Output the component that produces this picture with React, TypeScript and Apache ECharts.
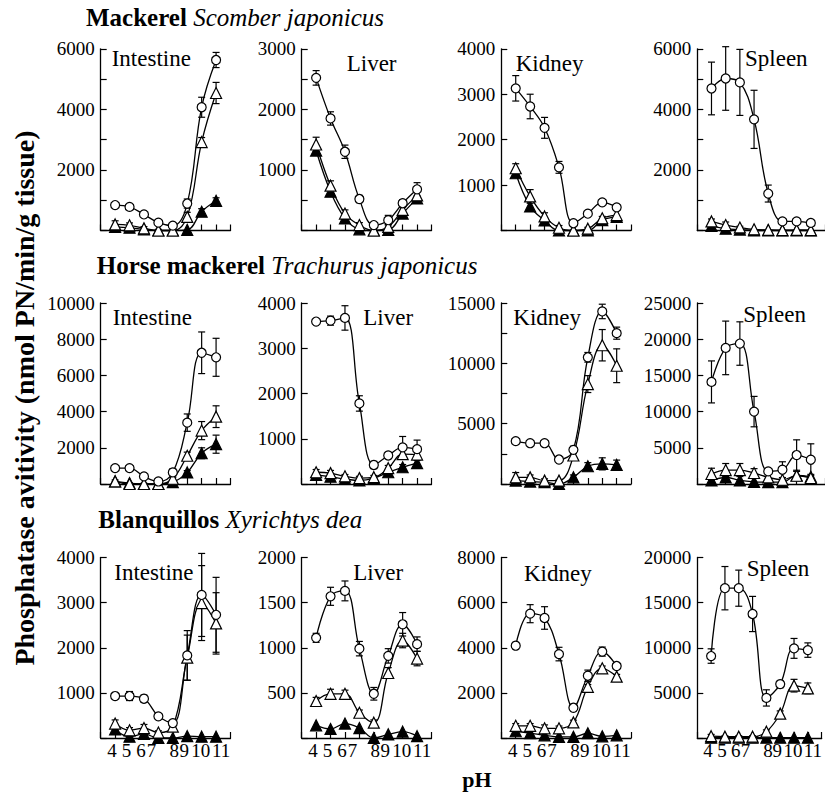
import React, { useEffect, useRef } from 'react';
import * as echarts from 'echarts';

// ---------------- DATA ----------------
const phValues = [4, 5, 6, 7, 8, 9, 10, 11];
const xTickLabels = ['4', '5', '6', '7', '8', '9', '10', '11'];

const fishBold = ['Mackerel', 'Horse mackerel', 'Blanquillos'];
const fishItalic = ['Scomber japonicus', 'Trachurus japonicus', 'Xyrichtys dea'];
const organNames = ['Intestine', 'Liver', 'Kidney', 'Spleen'];
const yAxisTitle = 'Phosphatase avitivity (nmol PN/min/g tissue)';
const xAxisTitle = 'pH';

// y-axis max, tick step, label step per row
const yMaxRow1 = [6000, 3000, 4000, 6000];
const yTickRow1 = [1000, 500, 1000, 1000];
const yLabelRow1 = [2000, 1000, 1000, 2000];
const yMaxRow2 = [10000, 4000, 15000, 25000];
const yTickRow2 = [2000, 1000, 2500, 5000];
const yLabelRow2 = [2000, 1000, 5000, 5000];
const yMaxRow3 = [4000, 2000, 8000, 20000];
const yTickRow3 = [1000, 500, 2000, 5000];
const yLabelRow3 = [1000, 500, 2000, 5000];

// Mackerel
const mackIntO = [840, 780, 530, 260, 160, 890, 4070, 5630];
const mackIntOErr = [70, 60, 60, 50, 60, 150, 330, 250];
const mackIntT = [200, 170, 70, 0, 0, 450, 2920, 4540];
const mackIntTErr = [120, 80, 60, 40, 40, 150, 150, 350];
const mackIntF = [120, 90, 40, 0, 0, 20, 620, 980];
const mackIntFErr = [0, 0, 0, 0, 0, 0, 100, 100];

const mackLivO = [2520, 1850, 1300, 520, 90, 170, 450, 680];
const mackLivOErr = [120, 110, 110, 60, 40, 80, 60, 110];
const mackLivT = [1420, 740, 280, 90, 0, 60, 340, 580];
const mackLivTErr = [120, 80, 60, 40, 0, 40, 50, 80];
const mackLivF = [1320, 640, 200, 20, 0, 10, 280, 530];
const mackLivFErr = [0, 0, 0, 0, 0, 0, 0, 0];

const mackKidO = [3130, 2730, 2260, 1390, 160, 370, 620, 510];
const mackKidOErr = [280, 270, 230, 130, 40, 30, 30, 60];
const mackKidT = [1370, 750, 310, 60, 0, 40, 270, 340];
const mackKidTErr = [100, 150, 80, 50, 0, 30, 40, 100];
const mackKidF = [1260, 530, 220, 0, 0, 0, 230, 300];
const mackKidFErr = [0, 0, 0, 0, 0, 0, 0, 0];

const mackSplO = [4690, 5020, 4890, 3670, 1220, 300, 300, 250];
const mackSplOErr = [870, 1050, 1090, 960, 280, 60, 60, 100];
const mackSplT = [300, 180, 100, 40, 20, 10, 20, 10];
const mackSplTErr = [80, 100, 40, 0, 0, 0, 0, 0];
const mackSplF = [150, 60, 30, 0, 0, 0, 0, 0];
const mackSplFErr = [0, 0, 0, 0, 0, 0, 0, 0];

// Horse mackerel
const horseIntO = [880, 880, 420, 140, 640, 3390, 7250, 7000];
const horseIntOErr = [100, 100, 60, 60, 200, 480, 1150, 1050];
const horseIntT = [140, 0, 0, 0, 290, 1560, 2950, 3720];
const horseIntTErr = [80, 60, 40, 40, 80, 200, 500, 600];
const horseIntF = [150, 50, 0, 0, 100, 640, 1700, 2200];
const horseIntFErr = [0, 0, 0, 0, 0, 100, 300, 500];

const horseLivO = [3590, 3610, 3670, 1780, 420, 630, 810, 770];
const horseLivOErr = [50, 100, 270, 170, 80, 70, 240, 200];
const horseLivT = [260, 240, 170, 130, 150, 350, 660, 650];
const horseLivTErr = [60, 60, 40, 40, 40, 60, 100, 100];
const horseLivF = [200, 160, 110, 80, 130, 260, 370, 460];
const horseLivFErr = [0, 0, 0, 0, 0, 0, 60, 60];

const horseKidO = [3550, 3380, 3380, 2030, 2830, 10500, 14300, 12500];
const horseKidOErr = [200, 200, 200, 100, 300, 400, 600, 500];
const horseKidT = [550, 550, 280, 280, 2360, 8280, 11500, 9800];
const horseKidTErr = [400, 200, 150, 100, 300, 700, 1300, 1400];
const horseKidF = [280, 200, 150, 0, 550, 1470, 1670, 1580];
const horseKidFErr = [0, 0, 0, 0, 200, 300, 500, 400];

const horseSplO = [14100, 18800, 19400, 10000, 1740, 1970, 4000, 3350];
const horseSplOErr = [2900, 3700, 3000, 2100, 300, 1100, 2100, 2200];
const horseSplT = [1380, 1930, 1930, 1520, 910, 590, 1140, 830];
const horseSplTErr = [800, 900, 900, 600, 500, 300, 600, 500];
const horseSplF = [500, 900, 500, 300, 250, 250, 1200, 1000];
const horseSplFErr = [0, 0, 0, 0, 0, 0, 0, 0];

// Blanquillos
const blanIntO = [930, 930, 870, 480, 330, 1830, 3170, 2730];
const blanIntOErr = [60, 100, 80, 40, 60, 550, 920, 830];
const blanIntT = [320, 170, 220, 120, 250, 1780, 2990, 2540];
const blanIntTErr = [80, 60, 80, 40, 60, 500, 830, 680];
const blanIntF = [190, 30, 90, 0, 0, 40, 30, 30];
const blanIntFErr = [0, 0, 0, 0, 0, 0, 0, 0];

const blanLivO = [1110, 1570, 1630, 990, 490, 910, 1260, 1040];
const blanLivOErr = [50, 100, 110, 80, 70, 80, 130, 80];
const blanLivT = [410, 490, 490, 280, 170, 720, 1080, 880];
const blanLivTErr = [40, 50, 40, 30, 30, 60, 80, 80];
const blanLivF = [140, 100, 160, 110, 0, 40, 70, 20];
const blanLivFErr = [0, 0, 0, 0, 0, 0, 0, 0];

const blanKidO = [4090, 5510, 5320, 3720, 1340, 2760, 3830, 3190];
const blanKidOErr = [150, 400, 500, 300, 150, 250, 200, 100];
const blanKidT = [540, 540, 430, 430, 690, 2270, 3090, 2720];
const blanKidTErr = [100, 100, 150, 100, 100, 100, 100, 100];
const blanKidF = [300, 220, 120, 50, 50, 210, 75, 120];
const blanKidFErr = [0, 0, 0, 0, 0, 0, 0, 0];

const blanSplO = [9080, 16600, 16600, 13740, 4440, 5970, 9930, 9740];
const blanSplOErr = [800, 2400, 2000, 1950, 900, 400, 1100, 800];
const blanSplT = [200, 150, 150, 150, 700, 2700, 5800, 5500];
const blanSplTErr = [200, 100, 100, 100, 200, 300, 700, 600];
const blanSplF = [30, 30, 30, 30, 30, 30, 30, 30];
const blanSplFErr = [0, 0, 0, 0, 0, 0, 0, 0];

// ---------------- LAYOUT / STYLE ----------------
const FONT = 'Liberation Serif';
const colLeft = [100.7, 301.7, 501.3, 697.3];
const colWidth = 129.8;
const rowTop = [48.8, 303, 557.5];
const rowBottom = [230.5, 484, 738];
const titlePos = [
  [86, 26],
  [96.7, 273.5],
  [98.3, 528.3],
];
const organPos = [
  [[111.7, 66.7], [346.7, 71.7], [515.7, 71.7], [745, 66]],
  [[112.7, 325], [363.3, 325], [513.3, 325], [743.3, 322.7]],
  [[114.3, 580], [353.3, 580], [524, 581.7], [746.7, 576.7]],
];
const xLabelShift = [-3, -3, -3, -7, 1.5, -3, -1, 5];

const panels = [
  [
    [mackIntO, mackIntOErr, mackIntT, mackIntTErr, mackIntF, mackIntFErr],
    [mackLivO, mackLivOErr, mackLivT, mackLivTErr, mackLivF, mackLivFErr],
    [mackKidO, mackKidOErr, mackKidT, mackKidTErr, mackKidF, mackKidFErr],
    [mackSplO, mackSplOErr, mackSplT, mackSplTErr, mackSplF, mackSplFErr],
  ],
  [
    [horseIntO, horseIntOErr, horseIntT, horseIntTErr, horseIntF, horseIntFErr],
    [horseLivO, horseLivOErr, horseLivT, horseLivTErr, horseLivF, horseLivFErr],
    [horseKidO, horseKidOErr, horseKidT, horseKidTErr, horseKidF, horseKidFErr],
    [horseSplO, horseSplOErr, horseSplT, horseSplTErr, horseSplF, horseSplFErr],
  ],
  [
    [blanIntO, blanIntOErr, blanIntT, blanIntTErr, blanIntF, blanIntFErr],
    [blanLivO, blanLivOErr, blanLivT, blanLivTErr, blanLivF, blanLivFErr],
    [blanKidO, blanKidOErr, blanKidT, blanKidTErr, blanKidF, blanKidFErr],
    [blanSplO, blanSplOErr, blanSplT, blanSplTErr, blanSplF, blanSplFErr],
  ],
];
const yMaxes = [yMaxRow1, yMaxRow2, yMaxRow3];
const yTicks = [yTickRow1, yTickRow2, yTickRow3];
const yLabels = [yLabelRow1, yLabelRow2, yLabelRow3];

const renderErr = (params: any, api: any) => {
  const x = api.value(0);
  const y = api.value(1);
  const e = api.value(2);
  if (!e) return null;
  const top = api.coord([x, y + e]);
  const bot = api.coord([x, y - e]);
  const cw = 3.5;
  const st = { stroke: '#000', lineWidth: 1.2 };
  return {
    type: 'group',
    children: [
      { type: 'line', shape: { x1: top[0], y1: top[1], x2: bot[0], y2: bot[1] }, style: st },
      { type: 'line', shape: { x1: top[0] - cw, y1: top[1], x2: top[0] + cw, y2: top[1] }, style: st },
      { type: 'line', shape: { x1: bot[0] - cw, y1: bot[1], x2: bot[0] + cw, y2: bot[1] }, style: st },
    ],
  };
};

function buildOption() {
  const grid: any[] = [];
  const xAxis: any[] = [];
  const yAxis: any[] = [];
  const series: any[] = [];
  const graphic: any[] = [];
  const xRich: any = {};
  xLabelShift.forEach((s, k) => {
    xRich['p' + k] = {
      fontSize: 19,
      fontFamily: FONT,
      color: '#000',
      padding: s < 0 ? [0, -2 * s, 0, 0] : [0, 0, 0, 2 * s],
    };
  });

  for (let r = 0; r < 3; r++) {
    for (let c = 0; c < 4; c++) {
      const i = r * 4 + c;
      grid.push({
        left: colLeft[c],
        top: rowTop[r],
        width: colWidth,
        height: rowBottom[r] - rowTop[r],
        containLabel: false,
      });
      xAxis.push({
        type: 'value',
        gridIndex: i,
        min: 3,
        max: 12,
        interval: 1,
        axisLine: { show: true, onZero: false, lineStyle: { color: '#000', width: 1.3 } },
        axisTick: { show: true, inside: true, length: 6, lineStyle: { color: '#000', width: 1.2 } },
        splitLine: { show: false },
        axisLabel: {
          show: r === 2,
          margin: 3,
          fontFamily: FONT,
          fontSize: 19,
          color: '#000',
          formatter: (v: number) => {
            const k = phValues.indexOf(v);
            return k < 0 ? '' : `{p${k}|${xTickLabels[k]}}`;
          },
          rich: xRich,
        },
      });
      const lab = yLabels[r][c];
      yAxis.push({
        type: 'value',
        gridIndex: i,
        min: 0,
        max: yMaxes[r][c],
        interval: yTicks[r][c],
        axisLine: { show: true, lineStyle: { color: '#000', width: 1.3 } },
        axisTick: { show: true, inside: true, length: 6, lineStyle: { color: '#000', width: 1.2 } },
        splitLine: { show: false },
        axisLabel: {
          margin: 6,
          color: '#000',
          fontSize: 19,
          fontFamily: FONT,
          formatter: (v: number) => (v !== 0 && Math.abs(v % lab) < 1e-6 ? String(v) : ''),
        },
      });
      const [o, oe, t, te, f, fe] = panels[r][c];
      const addSet = (vals: number[], errs: number[], symbol: string, filled: boolean, size: number) => {
        series.push({
          type: 'custom',
          xAxisIndex: i,
          yAxisIndex: i,
          renderItem: renderErr,
          data: phValues.map((x, k) => [x, vals[k], errs[k]]),
          z: 1,
          silent: true,
        });
        series.push({
          type: 'line',
          xAxisIndex: i,
          yAxisIndex: i,
          data: phValues.map((x, k) => [x, vals[k]]),
          smooth: 0.4,
          symbol,
          symbolSize: size,
          showAllSymbol: true,
          clip: false,
          silent: true,
          z: 3,
          lineStyle: { color: '#000', width: 1.3 },
          itemStyle: { color: filled ? '#000' : '#fff', borderColor: '#000', borderWidth: 1.2 },
        });
      };
      addSet(f, fe, 'triangle', true, 11);
      addSet(t, te, 'triangle', false, 11);
      addSet(o, oe, 'circle', false, 9);

      const [ox, oy] = organPos[r][c];
      graphic.push({
        type: 'text',
        x: ox,
        y: oy - 0.34 * 23,
        style: {
          text: organNames[c],
          fontSize: 23,
          fontFamily: FONT,
          fill: '#000',
          align: 'left',
          verticalAlign: 'middle',
        },
      });
    }
    const [tx, ty] = titlePos[r];
    graphic.push({
      type: 'text',
      x: tx,
      y: ty - 0.34 * 25,
      style: {
        text: `{b|${fishBold[r]}} {i|${fishItalic[r]}}`,
        fontSize: 25,
        fontFamily: FONT,
        fill: '#000',
        align: 'left',
        verticalAlign: 'middle',
        rich: {
          b: { fontWeight: 'bold', fontSize: 25, fontFamily: FONT, fill: '#000' },
          i: { fontStyle: 'italic', fontSize: 25, fontFamily: FONT, fill: '#000' },
        },
      },
    });
  }
  graphic.push({
    type: 'text',
    x: 24,
    y: 398,
    rotation: Math.PI / 2,
    style: {
      text: yAxisTitle,
      fontSize: 28,
      fontWeight: 'bold',
      fontFamily: FONT,
      fill: '#000',
      align: 'center',
      verticalAlign: 'middle',
    },
  });
  graphic.push({
    type: 'text',
    x: 477,
    y: 787 - 0.34 * 22,
    style: {
      text: xAxisTitle,
      fontSize: 22,
      fontWeight: 'bold',
      fontFamily: FONT,
      fill: '#000',
      align: 'center',
      verticalAlign: 'middle',
    },
  });

  return {
    animation: false,
    backgroundColor: '#fff',
    textStyle: { fontFamily: FONT },
    grid,
    xAxis,
    yAxis,
    series,
    graphic,
  };
}

export default function App() {
  const ref = useRef<HTMLDivElement>(null);
  useEffect(() => {
    if (!ref.current) return;
    const chart = echarts.init(ref.current, undefined, { renderer: 'svg' });
    chart.setOption(buildOption() as any);
    return () => chart.dispose();
  }, []);
  return (
    <div
      ref={ref}
      style={{ position: 'absolute', left: 0, top: 0, width: 825, height: 803, background: '#fff' }}
    />
  );
}
